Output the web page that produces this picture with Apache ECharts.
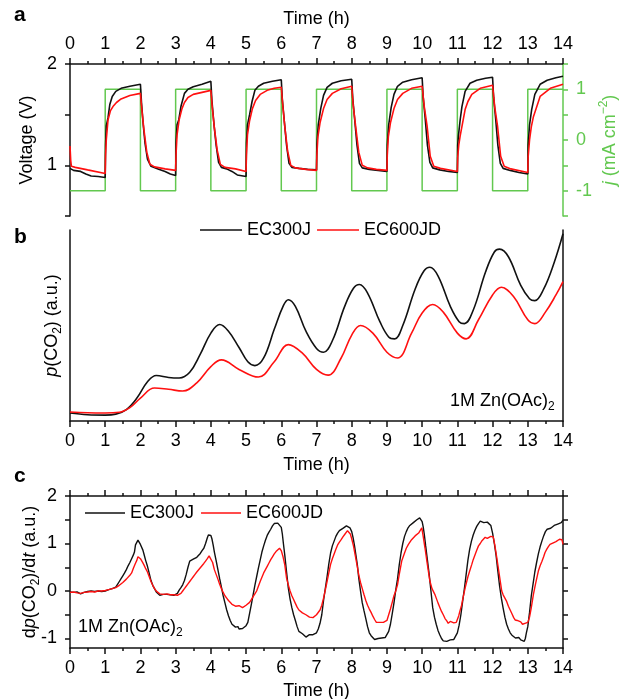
<!DOCTYPE html>
<html>
<head>
<meta charset="utf-8">
<title>Cycling voltage, p(CO2) and dp(CO2)/dt</title>
<script src="https://cdn.jsdelivr.net/npm/echarts@6/dist/echarts.min.js"></script>
<style>
  html, body { margin: 0; padding: 0; background: #fff; }
  #chart { width: 621px; height: 699px; }
</style>
</head>
<body>
<div id="chart"></div>
<script>
// Applied current density per one-hour half-cycle (mA cm^-2), 0-1 h ... 13-14 h
const currentSteps = [-1, 1, -1, 1, -1, 1, -1, 1, -1, 1, -1, 1, -1, 1];

// Cell voltage (V) versus time (h)
const voltageEC300J = [
  [0, 0.97], [0.1, 0.95], [0.3, 0.94], [0.45, 0.915], [0.6, 0.895], [0.8, 0.89], [1.0, 0.88],
  [1.01, 1.2], [1.03, 1.39], [1.08, 1.47], [1.13, 1.6], [1.2, 1.68], [1.3, 1.73], [1.45, 1.76], [1.7, 1.78], [2.0, 1.80],
  [2.03, 1.62], [2.08, 1.4], [2.13, 1.22], [2.2, 1.06], [2.3, 0.99], [2.5, 0.965], [2.7, 0.94], [2.85, 0.915], [3.0, 0.90],
  [3.01, 1.22], [3.04, 1.4], [3.09, 1.45], [3.15, 1.58], [3.25, 1.71], [3.35, 1.75], [3.5, 1.775], [3.75, 1.80], [4.0, 1.83],
  [4.03, 1.64], [4.09, 1.4], [4.15, 1.2], [4.22, 1.03], [4.3, 0.98], [4.45, 0.965], [4.6, 0.94], [4.75, 0.905], [5.0, 0.89],
  [5.01, 1.22], [5.04, 1.4], [5.1, 1.5], [5.17, 1.63], [5.25, 1.74], [5.35, 1.78], [5.5, 1.81], [5.75, 1.83], [6.0, 1.845],
  [6.03, 1.65], [6.09, 1.42], [6.15, 1.2], [6.22, 1.02], [6.3, 0.98], [6.5, 0.97], [6.75, 0.96], [7.0, 0.955],
  [7.01, 1.2], [7.05, 1.4], [7.12, 1.56], [7.2, 1.69], [7.3, 1.77], [7.45, 1.81], [7.7, 1.835], [8.0, 1.85],
  [8.03, 1.66], [8.09, 1.43], [8.15, 1.2], [8.22, 1.02], [8.3, 0.975], [8.5, 0.96], [8.75, 0.95], [9.0, 0.94],
  [9.01, 1.2], [9.05, 1.4], [9.12, 1.57], [9.2, 1.7], [9.3, 1.78], [9.45, 1.82], [9.7, 1.845], [10.0, 1.865],
  [10.03, 1.67], [10.09, 1.45], [10.15, 1.2], [10.22, 1.03], [10.3, 0.975], [10.5, 0.955], [10.75, 0.94], [11.0, 0.93],
  [11.01, 1.2], [11.03, 1.29], [11.08, 1.45], [11.13, 1.58], [11.22, 1.73], [11.36, 1.81], [11.55, 1.84], [11.8, 1.86], [12.0, 1.87],
  [12.03, 1.67], [12.09, 1.45], [12.15, 1.2], [12.22, 1.02], [12.3, 0.97], [12.5, 0.95], [12.75, 0.93], [13.0, 0.915],
  [13.01, 1.2], [13.05, 1.4], [13.11, 1.55], [13.2, 1.7], [13.35, 1.8], [13.55, 1.84], [13.8, 1.865], [14.0, 1.88]
];
const voltageEC600JD = [
  [0, 1.19], [0.02, 1.05], [0.04, 0.99], [0.15, 0.98], [0.5, 0.955], [1.0, 0.92],
  [1.01, 1.1], [1.03, 1.25], [1.08, 1.45], [1.15, 1.54], [1.22, 1.58], [1.32, 1.62], [1.45, 1.655], [1.7, 1.69], [2.0, 1.71],
  [2.04, 1.55], [2.1, 1.35], [2.18, 1.13], [2.27, 1.01], [2.4, 0.985], [2.7, 0.965], [3.0, 0.95],
  [3.01, 1.1], [3.04, 1.3], [3.1, 1.45], [3.18, 1.56], [3.25, 1.62], [3.35, 1.67], [3.5, 1.70], [3.75, 1.72], [4.0, 1.74],
  [4.04, 1.57], [4.1, 1.37], [4.18, 1.15], [4.27, 1.01], [4.4, 0.98], [4.7, 0.965], [5.0, 0.94],
  [5.01, 1.1], [5.04, 1.3], [5.1, 1.44], [5.18, 1.56], [5.27, 1.64], [5.4, 1.70], [5.6, 1.74], [5.8, 1.76], [6.0, 1.77],
  [6.04, 1.6], [6.1, 1.38], [6.18, 1.14], [6.27, 1.0], [6.4, 0.975], [6.7, 0.96], [7.0, 0.95],
  [7.01, 1.1], [7.04, 1.28], [7.1, 1.42], [7.2, 1.56], [7.3, 1.65], [7.45, 1.71], [7.7, 1.755], [8.0, 1.78],
  [8.04, 1.6], [8.12, 1.36], [8.2, 1.13], [8.3, 1.0], [8.45, 0.975], [8.7, 0.96], [9.0, 0.95],
  [9.01, 1.1], [9.04, 1.28], [9.1, 1.42], [9.2, 1.56], [9.3, 1.65], [9.45, 1.71], [9.7, 1.76], [10.0, 1.78],
  [10.06, 1.58], [10.14, 1.39], [10.23, 1.09], [10.33, 0.99], [10.52, 0.97], [11.0, 0.94],
  [11.01, 1.08], [11.04, 1.2], [11.08, 1.29], [11.22, 1.55], [11.3, 1.63], [11.41, 1.70], [11.65, 1.76], [12.0, 1.79],
  [12.06, 1.58], [12.14, 1.39], [12.23, 1.09], [12.33, 0.99], [12.52, 0.965], [13.0, 0.93],
  [13.01, 1.08], [13.05, 1.25], [13.1, 1.38], [13.16, 1.48], [13.35, 1.68], [13.64, 1.76], [14.0, 1.80]
];

// CO2 partial pressure (arbitrary units, 0-100 span of the panel)
const pco2EC300J = [
  [0, 4.2], [0.5, 3.3], [1, 3.1], [1.3, 3.6], [1.6, 6], [1.9, 12], [2.2, 20.5], [2.45, 23.8], [2.8, 22.8], [3.1, 22.5],
  [3.4, 25.5], [3.7, 35], [4.0, 46], [4.25, 50.5], [4.5, 47], [4.8, 38.5], [5.05, 31], [5.25, 29], [5.5, 33],
  [5.8, 48], [6.05, 60], [6.2, 63.5], [6.4, 60], [6.7, 47], [7.0, 38], [7.2, 36], [7.45, 42], [7.8, 60],
  [8.05, 69.5], [8.22, 71.5], [8.45, 67], [8.8, 52], [9.05, 44], [9.22, 43], [9.45, 50], [9.8, 69], [10.05, 78.5],
  [10.22, 80.5], [10.45, 76], [10.8, 60], [11.05, 52], [11.2, 51], [11.45, 58], [11.8, 78], [12.05, 88.5],
  [12.2, 90], [12.45, 86], [12.8, 71], [13.05, 64], [13.2, 63], [13.45, 69], [13.75, 83], [14, 98]
];
const pco2EC600JD = [
  [0, 4.7], [0.5, 4.3], [1, 4.2], [1.4, 4.6], [1.7, 7], [2.0, 12], [2.4, 17.3], [2.8, 16.6], [3.2, 15.7],
  [3.6, 20], [4.0, 28.5], [4.3, 32], [4.8, 27], [5.35, 23], [5.8, 31], [6.2, 40], [6.6, 35.5], [7.0, 27],
  [7.33, 24], [7.7, 33], [8.0, 45], [8.25, 50], [8.6, 46], [9.0, 36], [9.3, 33], [9.7, 46], [10.0, 56.5],
  [10.3, 61], [10.6, 57], [11.0, 46], [11.25, 43], [11.6, 53], [12.0, 66], [12.25, 70], [12.6, 65],
  [13.0, 53], [13.2, 51], [13.5, 57], [13.8, 66], [14, 73]
];

// Time derivative of p(CO2) (arbitrary units)
const rateEC300J = [
  [0.0, -0.02], [0.05, -0.01], [0.1, -0.03], [0.15, -0.02], [0.2, -0.02], [0.25, -0.04], [0.3, -0.06], [0.35, -0.04],
  [0.4, -0.03], [0.45, -0.02], [0.5, -0.01], [0.55, 0.0], [0.6, 0.0], [0.65, -0.01], [0.7, -0.01], [0.75, 0.01],
  [0.8, 0.0], [0.85, 0.0], [0.9, -0.01], [0.95, 0.0], [1.0, 0.0], [1.05, 0.02], [1.1, 0.03], [1.15, 0.04],
  [1.2, 0.05], [1.25, 0.06], [1.3, 0.08], [1.35, 0.14], [1.4, 0.2], [1.45, 0.26], [1.5, 0.32], [1.55, 0.38],
  [1.6, 0.45], [1.65, 0.53], [1.7, 0.6], [1.75, 0.68], [1.8, 0.76], [1.83, 0.82], [1.86, 0.97], [1.9, 1.0],
  [1.93, 1.07], [1.96, 1.06], [2.0, 0.98], [2.03, 0.96], [2.07, 0.86], [2.1, 0.78], [2.15, 0.64], [2.2, 0.52],
  [2.25, 0.37], [2.3, 0.22], [2.35, 0.12], [2.4, 0.05], [2.45, -0.02], [2.5, -0.06], [2.55, -0.09], [2.6, -0.1],
  [2.65, -0.07], [2.7, -0.09], [2.75, -0.07], [2.8, -0.1], [2.85, -0.08], [2.9, -0.07], [2.95, -0.09], [3.0, -0.07],
  [3.05, -0.05], [3.1, 0.02], [3.15, 0.07], [3.2, 0.13], [3.25, 0.22], [3.3, 0.35], [3.35, 0.5], [3.4, 0.63],
  [3.45, 0.66], [3.5, 0.67], [3.55, 0.7], [3.6, 0.71], [3.65, 0.75], [3.7, 0.79], [3.75, 0.85], [3.8, 0.9],
  [3.85, 1.0], [3.9, 1.12], [3.93, 1.18], [3.96, 1.21], [4.0, 1.17], [4.03, 1.1], [4.07, 0.95], [4.1, 0.82],
  [4.15, 0.64], [4.2, 0.45], [4.25, 0.26], [4.3, 0.08], [4.35, -0.1], [4.4, -0.25], [4.45, -0.4], [4.5, -0.52],
  [4.55, -0.62], [4.6, -0.7], [4.65, -0.74], [4.7, -0.76], [4.73, -0.72], [4.77, -0.75], [4.8, -0.8], [4.85, -0.78],
  [4.9, -0.79], [4.95, -0.75], [5.0, -0.73], [5.05, -0.66], [5.1, -0.47], [5.15, -0.28], [5.2, -0.08], [5.25, 0.12],
  [5.3, 0.3], [5.35, 0.48], [5.4, 0.65], [5.45, 0.82], [5.5, 0.95], [5.55, 1.07], [5.6, 1.17], [5.65, 1.24],
  [5.7, 1.3], [5.75, 1.37], [5.8, 1.42], [5.85, 1.44], [5.9, 1.43], [5.95, 1.42], [6.0, 1.34], [6.03, 1.2],
  [6.06, 1.0], [6.1, 0.75], [6.15, 0.4], [6.2, 0.06], [6.25, -0.17], [6.3, -0.35], [6.35, -0.5], [6.4, -0.62],
  [6.45, -0.75], [6.5, -0.85], [6.55, -0.88], [6.6, -0.9], [6.65, -0.94], [6.7, -0.97], [6.75, -0.93], [6.8, -0.92],
  [6.85, -0.95], [6.9, -0.92], [6.95, -0.93], [7.0, -0.88], [7.05, -0.8], [7.1, -0.68], [7.15, -0.5], [7.2, -0.2],
  [7.25, 0.05], [7.3, 0.3], [7.35, 0.57], [7.4, 0.8], [7.45, 0.95], [7.5, 1.05], [7.55, 1.15], [7.6, 1.22],
  [7.65, 1.27], [7.7, 1.3], [7.75, 1.32], [7.8, 1.35], [7.85, 1.37], [7.9, 1.36], [7.95, 1.33], [8.0, 1.25],
  [8.04, 1.12], [8.08, 0.95], [8.12, 0.75], [8.16, 0.55], [8.2, 0.27], [8.25, 0.0], [8.3, -0.25], [8.35, -0.42],
  [8.4, -0.58], [8.45, -0.75], [8.5, -0.88], [8.55, -0.94], [8.6, -0.98], [8.65, -1.02], [8.7, -1.04], [8.75, -1.0],
  [8.8, -0.98], [8.85, -0.99], [8.9, -0.96], [8.95, -0.98], [9.0, -0.94], [9.05, -0.85], [9.1, -0.7], [9.15, -0.48],
  [9.2, -0.25], [9.25, 0.02], [9.3, 0.25], [9.35, 0.55], [9.4, 0.8], [9.45, 1.0], [9.5, 1.15], [9.55, 1.25],
  [9.6, 1.33], [9.65, 1.38], [9.7, 1.42], [9.75, 1.44], [9.8, 1.46], [9.85, 1.5], [9.9, 1.5], [9.93, 1.54],
  [9.96, 1.5], [10.0, 1.46], [10.03, 1.35], [10.06, 1.2], [10.1, 0.95], [10.15, 0.65], [10.2, 0.35], [10.25, 0.0],
  [10.3, -0.35], [10.35, -0.55], [10.4, -0.7], [10.45, -0.83], [10.5, -0.92], [10.55, -1.0], [10.6, -1.05], [10.65, -1.08],
  [10.7, -1.06], [10.75, -1.09], [10.8, -1.03], [10.85, -1.05], [10.9, -1.02], [10.95, -0.98], [11.0, -0.88], [11.05, -0.72],
  [11.1, -0.5], [11.15, -0.22], [11.2, 0.05], [11.25, 0.35], [11.3, 0.65], [11.35, 0.88], [11.4, 1.05], [11.45, 1.18],
  [11.5, 1.28], [11.55, 1.36], [11.6, 1.42], [11.65, 1.47], [11.7, 1.48], [11.75, 1.44], [11.8, 1.46], [11.85, 1.45],
  [11.9, 1.44], [11.95, 1.38], [12.0, 1.22], [12.05, 1.0], [12.1, 0.75], [12.15, 0.42], [12.2, 0.1], [12.25, -0.15],
  [12.3, -0.36], [12.35, -0.55], [12.4, -0.7], [12.45, -0.8], [12.5, -0.88], [12.55, -0.93], [12.6, -0.97], [12.65, -0.99],
  [12.7, -1.0], [12.75, -0.98], [12.8, -1.03], [12.85, -1.01], [12.9, -1.06], [12.93, -1.0], [12.96, -0.88], [13.0, -0.75],
  [13.05, -0.45], [13.1, -0.1], [13.15, 0.15], [13.2, 0.4], [13.25, 0.6], [13.3, 0.78], [13.35, 0.93], [13.4, 1.05],
  [13.45, 1.16], [13.5, 1.25], [13.55, 1.3], [13.6, 1.33], [13.65, 1.32], [13.7, 1.36], [13.75, 1.38], [13.8, 1.42],
  [13.85, 1.41], [13.9, 1.45], [13.95, 1.44], [14.0, 1.49]
];
const rateEC600JD = [
  [0.0, -0.03], [0.05, -0.02], [0.1, -0.02], [0.15, -0.03], [0.2, -0.04], [0.25, -0.03], [0.3, -0.05], [0.35, -0.04],
  [0.4, -0.03], [0.45, -0.03], [0.5, -0.02], [0.55, -0.01], [0.6, -0.01], [0.65, -0.02], [0.7, -0.02], [0.75, 0.0],
  [0.8, 0.0], [0.85, -0.01], [0.9, 0.0], [0.95, 0.01], [1.0, 0.01], [1.05, 0.02], [1.1, 0.03], [1.15, 0.04],
  [1.2, 0.05], [1.25, 0.06], [1.3, 0.07], [1.35, 0.09], [1.4, 0.12], [1.45, 0.15], [1.5, 0.18], [1.55, 0.21],
  [1.6, 0.25], [1.65, 0.29], [1.7, 0.33], [1.75, 0.38], [1.8, 0.48], [1.85, 0.57], [1.9, 0.65], [1.93, 0.72],
  [1.96, 0.74], [2.0, 0.68], [2.05, 0.62], [2.1, 0.55], [2.15, 0.47], [2.2, 0.4], [2.25, 0.3], [2.3, 0.2],
  [2.35, 0.12], [2.4, 0.05], [2.45, 0.0], [2.5, -0.04], [2.55, -0.06], [2.6, -0.08], [2.65, -0.07], [2.7, -0.08],
  [2.75, -0.06], [2.8, -0.07], [2.85, -0.08], [2.9, -0.06], [2.95, -0.08], [3.0, -0.07], [3.05, -0.09], [3.1, -0.08],
  [3.15, -0.05], [3.2, 0.0], [3.25, 0.05], [3.3, 0.1], [3.35, 0.15], [3.4, 0.2], [3.45, 0.25], [3.5, 0.3],
  [3.55, 0.35], [3.6, 0.4], [3.65, 0.44], [3.7, 0.49], [3.75, 0.53], [3.8, 0.58], [3.85, 0.63], [3.9, 0.68],
  [3.95, 0.74], [4.0, 0.72], [4.05, 0.6], [4.1, 0.45], [4.15, 0.35], [4.2, 0.25], [4.25, 0.14], [4.3, 0.05],
  [4.35, -0.03], [4.4, -0.1], [4.45, -0.15], [4.5, -0.2], [4.55, -0.24], [4.6, -0.28], [4.65, -0.3], [4.7, -0.32],
  [4.75, -0.3], [4.8, -0.31], [4.85, -0.33], [4.9, -0.35], [4.95, -0.32], [5.0, -0.3], [5.05, -0.27], [5.1, -0.24],
  [5.15, -0.18], [5.2, -0.12], [5.25, -0.06], [5.3, 0.0], [5.35, 0.1], [5.4, 0.2], [5.45, 0.29], [5.5, 0.38],
  [5.55, 0.45], [5.6, 0.52], [5.65, 0.59], [5.7, 0.66], [5.75, 0.72], [5.8, 0.78], [5.85, 0.83], [5.9, 0.87],
  [5.95, 0.9], [6.0, 0.85], [6.05, 0.72], [6.1, 0.55], [6.15, 0.27], [6.2, 0.13], [6.25, 0.0], [6.3, -0.1],
  [6.35, -0.18], [6.4, -0.26], [6.45, -0.34], [6.5, -0.4], [6.55, -0.44], [6.6, -0.46], [6.65, -0.47], [6.7, -0.5],
  [6.75, -0.52], [6.8, -0.55], [6.85, -0.53], [6.9, -0.56], [6.95, -0.53], [7.0, -0.5], [7.05, -0.46], [7.1, -0.4],
  [7.15, -0.3], [7.2, -0.15], [7.25, 0.02], [7.3, 0.2], [7.35, 0.38], [7.4, 0.56], [7.45, 0.68], [7.5, 0.78],
  [7.55, 0.88], [7.6, 0.97], [7.65, 1.03], [7.7, 1.08], [7.75, 1.14], [7.8, 1.19], [7.85, 1.22], [7.88, 1.27],
  [7.92, 1.25], [7.96, 1.2], [8.0, 1.1], [8.05, 0.95], [8.1, 0.75], [8.15, 0.55], [8.2, 0.34], [8.25, 0.18],
  [8.3, 0.05], [8.35, -0.08], [8.4, -0.2], [8.45, -0.3], [8.5, -0.38], [8.55, -0.45], [8.6, -0.53], [8.65, -0.6],
  [8.7, -0.66], [8.75, -0.69], [8.8, -0.66], [8.85, -0.64], [8.9, -0.66], [8.95, -0.62], [9.0, -0.62], [9.05, -0.5],
  [9.1, -0.38], [9.15, -0.24], [9.2, -0.1], [9.25, 0.0], [9.3, 0.13], [9.35, 0.35], [9.42, 0.63], [9.5, 0.8],
  [9.55, 0.9], [9.61, 0.98], [9.65, 1.02], [9.7, 1.08], [9.75, 1.1], [9.8, 1.16], [9.85, 1.18], [9.9, 1.22],
  [9.95, 1.26], [9.99, 1.33], [10.03, 1.15], [10.08, 0.91], [10.15, 0.55], [10.22, 0.21], [10.28, 0.05], [10.36, -0.07],
  [10.4, -0.15], [10.45, -0.25], [10.5, -0.34], [10.55, -0.43], [10.6, -0.5], [10.65, -0.58], [10.7, -0.63], [10.74, -0.68],
  [10.8, -0.64], [10.85, -0.66], [10.9, -0.67], [10.93, -0.7], [10.97, -0.66], [11.0, -0.6], [11.04, -0.52], [11.07, -0.43],
  [11.12, -0.3], [11.15, -0.18], [11.22, 0.06], [11.3, 0.3], [11.35, 0.42], [11.41, 0.56], [11.45, 0.66], [11.5, 0.76],
  [11.55, 0.86], [11.6, 0.95], [11.65, 1.0], [11.7, 1.06], [11.75, 1.1], [11.79, 1.13], [11.85, 1.11], [11.9, 1.12],
  [11.95, 1.15], [12.02, 1.14], [12.06, 0.98], [12.12, 0.7], [12.16, 0.5], [12.2, 0.3], [12.26, 0.0], [12.3, -0.08],
  [12.35, -0.15], [12.4, -0.22], [12.45, -0.32], [12.5, -0.4], [12.55, -0.48], [12.6, -0.56], [12.64, -0.61], [12.7, -0.62],
  [12.75, -0.66], [12.8, -0.65], [12.85, -0.7], [12.88, -0.71], [12.92, -0.68], [12.95, -0.7], [13.0, -0.66], [13.05, -0.55],
  [13.1, -0.35], [13.16, -0.07], [13.22, 0.15], [13.3, 0.42], [13.35, 0.53], [13.4, 0.62], [13.45, 0.72], [13.49, 0.81],
  [13.54, 0.88], [13.58, 0.93], [13.63, 0.98], [13.68, 1.02], [13.74, 1.02], [13.8, 1.04], [13.85, 1.08], [13.9, 1.09],
  [13.95, 1.06], [13.97, 1.08], [14.0, 0.98]
];

// Tick positions
const voltageTicks = [0.5, 1, 1.5, 2];
const voltageLabels = [1, 2];
const currentTicks = [-1.5, -1, -0.5, 0, 0.5, 1, 1.5];
const currentLabels = [-1, 0, 1];
const rateTicks = [-1, -0.5, 0, 0.5, 1, 1.5, 2];
const rateLabels = [-1, 0, 1, 2];

const FONT = 'Liberation Sans, Arial, sans-serif';
const BLACK = '#111111';
const RED = '#ff1010';
const GREEN = '#62c84f';

// Step curve for the applied current: one point per half-cycle start plus the end point
const currentData = currentSteps.map((j, i) => [i, j]);
currentData.push([currentSteps.length, currentSteps[currentSteps.length - 1]]);

const axisLineStyle = { color: BLACK, width: 1.5 };
const richText = {
  i: { fontStyle: 'italic', fontSize: 18, fontFamily: FONT },
  sub: { fontSize: 12, fontFamily: FONT, verticalAlign: 'bottom', lineHeight: 24 },
  sup: { fontSize: 12, fontFamily: FONT, verticalAlign: 'top', lineHeight: 24 }
};

function timeAxis(gridIndex, position, showLabels, name, nameGap) {
  return {
    type: 'value', gridIndex, position,
    min: 0, max: 14, interval: 1,
    axisLine: { show: true, onZero: false, lineStyle: axisLineStyle },
    axisTick: { show: true, inside: false, length: 6, lineStyle: axisLineStyle },
    minorTick: { show: true, splitNumber: 2, length: 3, lineStyle: axisLineStyle },
    axisLabel: { show: showLabels, margin: 11, fontSize: 18, fontFamily: FONT, color: '#000' },
    splitLine: { show: false },
    name: name || '', nameLocation: 'middle', nameGap: nameGap || 30, nameMoveOverlap: false,
    nameTextStyle: { fontSize: 18, fontFamily: FONT, color: '#000' }
  };
}

const chart = echarts.init(document.getElementById('chart'), null, { renderer: 'canvas' });

const legendText = { fontSize: 18, fontFamily: FONT, color: '#000' };

const option = {
  animation: false,
  backgroundColor: '#fff',
  grid: [
    { left: 70, right: 58, top: 64, height: 152, outerBoundsMode: 'none', containLabel: false },
    { left: 70, right: 58, top: 230, height: 191, outerBoundsMode: 'none', containLabel: false },
    { left: 70, right: 58, top: 496, height: 152, outerBoundsMode: 'none', containLabel: false }
  ],
  xAxis: [
    timeAxis(0, 'top', true, 'Time (h)', 36),
    timeAxis(1, 'bottom', true, 'Time (h)', 35),
    timeAxis(2, 'bottom', true, 'Time (h)', 34),
    timeAxis(2, 'top', false)
  ],
  yAxis: [
    {
      type: 'value', gridIndex: 0, position: 'left', min: 0.5, max: 2,
      axisLine: { show: true, onZero: false, lineStyle: axisLineStyle },
      axisTick: { show: true, length: 5, customValues: voltageTicks, lineStyle: axisLineStyle },
      axisLabel: { show: true, margin: 13, customValues: voltageLabels, fontSize: 18, fontFamily: FONT, color: '#000' },
      splitLine: { show: false },
      name: 'Voltage (V)', nameLocation: 'middle', nameRotate: 90, nameGap: 34, nameMoveOverlap: false,
      nameTextStyle: { fontSize: 18, fontFamily: FONT, color: '#000' }
    },
    {
      type: 'value', gridIndex: 0, position: 'right', min: -1.5, max: 1.5,
      axisLine: { show: true, onZero: false, lineStyle: { color: GREEN, width: 1.5 } },
      axisTick: { show: true, length: 5, customValues: currentTicks, lineStyle: { color: GREEN, width: 1.5 } },
      axisLabel: { show: true, margin: 13, customValues: currentLabels, fontSize: 18, fontFamily: FONT, color: GREEN },
      splitLine: { show: false },
      name: '{i|j} (mA cm{sup|−2})', nameLocation: 'middle', nameRotate: 90, nameGap: 35, nameMoveOverlap: false,
      nameTextStyle: { fontSize: 18, fontFamily: FONT, color: GREEN, rich: richText }
    },
    {
      type: 'value', gridIndex: 1, position: 'left', min: 0, max: 100,
      axisLine: { show: true, onZero: false, lineStyle: axisLineStyle },
      axisTick: { show: false }, axisLabel: { show: false }, splitLine: { show: false },
      name: '{i|p}(CO{sub|2}) (a.u.)', nameLocation: 'middle', nameRotate: 90, nameGap: 6, nameMoveOverlap: false,
      nameTextStyle: { fontSize: 18, fontFamily: FONT, color: '#000', rich: richText }
    },
    {
      type: 'value', gridIndex: 1, position: 'right', min: 0, max: 100,
      axisLine: { show: true, onZero: false, lineStyle: axisLineStyle },
      axisTick: { show: false }, axisLabel: { show: false }, splitLine: { show: false }
    },
    {
      type: 'value', gridIndex: 2, position: 'left', min: -1.2, max: 2,
      axisLine: { show: true, onZero: false, lineStyle: axisLineStyle },
      axisTick: { show: true, length: 5, customValues: rateTicks, lineStyle: axisLineStyle },
      axisLabel: { show: true, margin: 13, customValues: rateLabels, fontSize: 18, fontFamily: FONT, color: '#000' },
      splitLine: { show: false },
      name: 'd{i|p}(CO{sub|2})/d{i|t} (a.u.)', nameLocation: 'middle', nameRotate: 90, nameGap: 28, nameMoveOverlap: false,
      nameTextStyle: { fontSize: 18, fontFamily: FONT, color: '#000', rich: richText }
    },
    {
      type: 'value', gridIndex: 2, position: 'right', min: -1.2, max: 2,
      axisLine: { show: true, onZero: false, lineStyle: axisLineStyle },
      axisTick: { show: true, length: 5, customValues: rateTicks, lineStyle: axisLineStyle },
      axisLabel: { show: false }, splitLine: { show: false }
    }
  ],
  legend: [
    {
      data: ['EC300J', 'EC600JD'], left: 195, top: 216, orient: 'horizontal',
      icon: 'rect', itemWidth: 42, itemHeight: 1.6, itemGap: 6, textStyle: legendText
    },
    {
      data: ['EC300J', 'EC600JD'], left: 80, top: 499, orient: 'horizontal',
      icon: 'rect', itemWidth: 40, itemHeight: 1.6, itemGap: 7, textStyle: legendText
    }
  ],
  series: [
    {
      name: 'j', type: 'line', xAxisIndex: 0, yAxisIndex: 1, data: currentData, step: 'end',
      symbol: 'none', lineStyle: { color: GREEN, width: 1.5 }, itemStyle: { color: GREEN }, z: 1
    },
    {
      name: 'EC300J', type: 'line', xAxisIndex: 0, yAxisIndex: 0, data: voltageEC300J,
      symbol: 'none', lineStyle: { color: BLACK, width: 1.6 }, itemStyle: { color: BLACK }, z: 2
    },
    {
      name: 'EC600JD', type: 'line', xAxisIndex: 0, yAxisIndex: 0, data: voltageEC600JD,
      symbol: 'none', lineStyle: { color: RED, width: 1.6 }, itemStyle: { color: RED }, z: 3
    },
    {
      name: 'EC300J', type: 'line', xAxisIndex: 1, yAxisIndex: 2, data: pco2EC300J, smooth: 0.4,
      symbol: 'none', lineStyle: { color: BLACK, width: 1.6 }, itemStyle: { color: BLACK }, z: 2
    },
    {
      name: 'EC600JD', type: 'line', xAxisIndex: 1, yAxisIndex: 2, data: pco2EC600JD, smooth: 0.4,
      symbol: 'none', lineStyle: { color: RED, width: 1.6 }, itemStyle: { color: RED }, z: 3
    },
    {
      name: 'EC300J', type: 'line', xAxisIndex: 2, yAxisIndex: 4, data: rateEC300J,
      symbol: 'none', lineStyle: { color: BLACK, width: 1.4 }, itemStyle: { color: BLACK }, z: 2
    },
    {
      name: 'EC600JD', type: 'line', xAxisIndex: 2, yAxisIndex: 4, data: rateEC600JD,
      symbol: 'none', lineStyle: { color: RED, width: 1.4 }, itemStyle: { color: RED }, z: 3
    }
  ],
  graphic: [
    { type: 'text', left: 14, top: 5, style: { text: 'a', font: 'bold 21px ' + FONT, fill: '#000' } },
    { type: 'text', left: 14, top: 227, style: { text: 'b', font: 'bold 21px ' + FONT, fill: '#000' } },
    { type: 'text', left: 14, top: 466, style: { text: 'c', font: 'bold 21px ' + FONT, fill: '#000' } },
    {
      type: 'text', left: 450, top: 392,
      style: {
        text: '1M Zn(OAc){s|2}', font: '18px ' + FONT, fill: '#000',
        rich: { s: { fontSize: 12, fontFamily: FONT, verticalAlign: 'bottom', lineHeight: 24 } }
      }
    },
    {
      type: 'text', left: 78, top: 618,
      style: {
        text: '1M Zn(OAc){s|2}', font: '18px ' + FONT, fill: '#000',
        rich: { s: { fontSize: 12, fontFamily: FONT, verticalAlign: 'bottom', lineHeight: 24 } }
      }
    }
  ]
};

chart.setOption(option);
</script>
</body>
</html>
